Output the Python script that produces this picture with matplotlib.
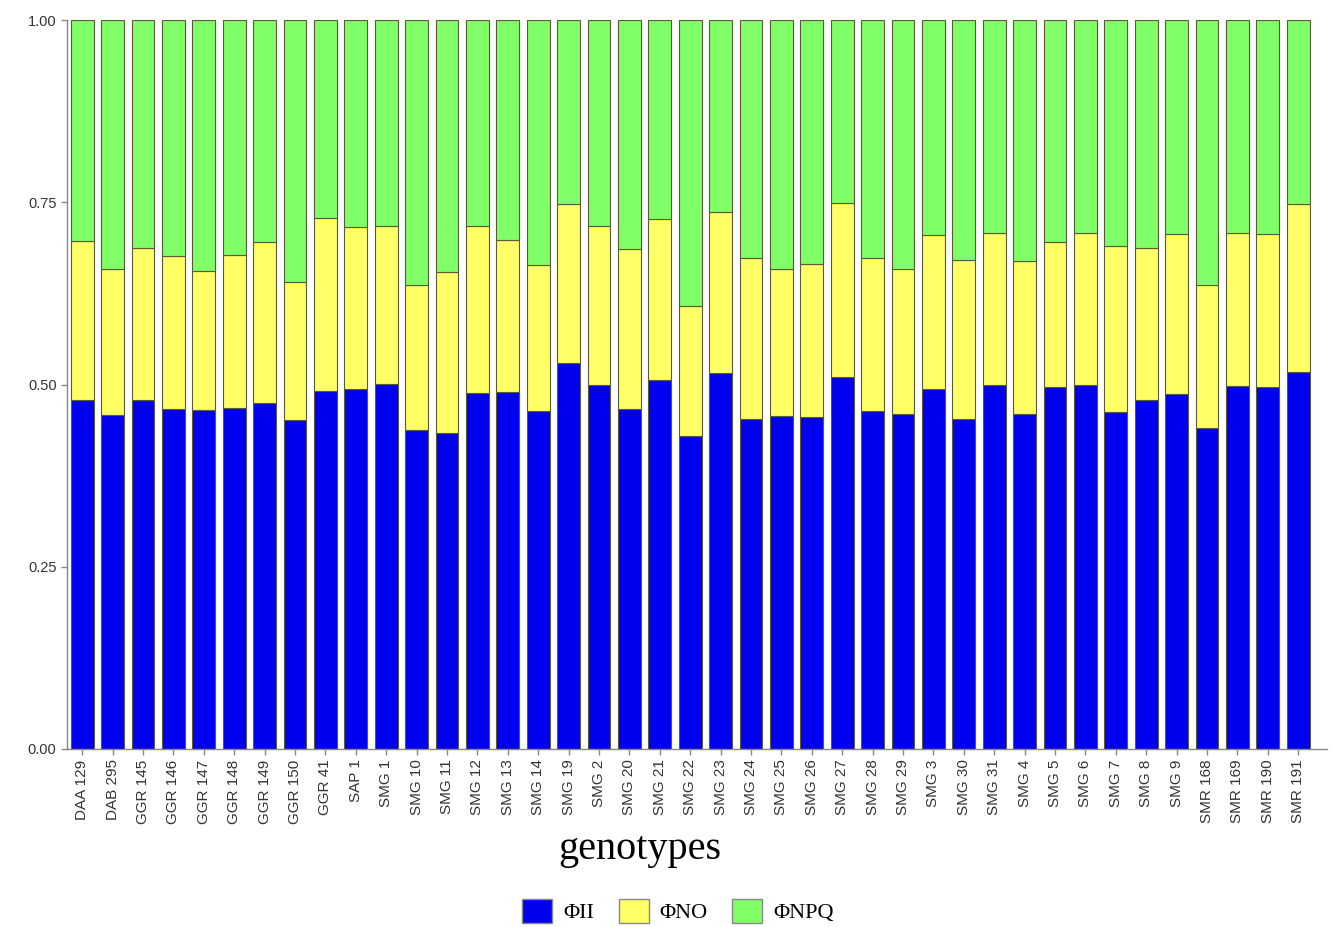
import numpy as np
import matplotlib.pyplot as plt
from matplotlib.patches import Patch

genotypes = ["DAA 129", "DAB 295", "GGR 145", "GGR 146", "GGR 147", "GGR 148",
             "GGR 149", "GGR 150", "GGR 41", "SAP 1", "SMG 1", "SMG 10", "SMG 11",
             "SMG 12", "SMG 13", "SMG 14", "SMG 19", "SMG 2", "SMG 20", "SMG 21",
             "SMG 22", "SMG 23", "SMG 24", "SMG 25", "SMG 26", "SMG 27", "SMG 28",
             "SMG 29", "SMG 3", "SMG 30", "SMG 31", "SMG 4", "SMG 5", "SMG 6",
             "SMG 7", "SMG 8", "SMG 9", "SMR 168", "SMR 169", "SMR 190", "SMR 191"]

# fractions
phi_ii = [0.479, 0.458, 0.479, 0.466, 0.465, 0.468, 0.474, 0.451, 0.491, 0.494,
          0.501, 0.438, 0.433, 0.489, 0.490, 0.464, 0.529, 0.500, 0.467, 0.506,
          0.429, 0.516, 0.453, 0.457, 0.455, 0.510, 0.463, 0.459, 0.494, 0.453,
          0.500, 0.460, 0.496, 0.500, 0.462, 0.479, 0.487, 0.440, 0.498, 0.497,
          0.517]
phi_no = [0.218, 0.200, 0.208, 0.210, 0.191, 0.209, 0.221, 0.189, 0.238, 0.222,
          0.217, 0.199, 0.221, 0.229, 0.208, 0.200, 0.218, 0.218, 0.219, 0.221,
          0.179, 0.220, 0.220, 0.201, 0.210, 0.239, 0.210, 0.199, 0.211, 0.218,
          0.208, 0.209, 0.200, 0.208, 0.228, 0.208, 0.219, 0.197, 0.210, 0.209,
          0.230]
phi_npq = [0.303, 0.342, 0.313, 0.324, 0.344, 0.323, 0.305, 0.360, 0.271, 0.284,
           0.282, 0.363, 0.346, 0.282, 0.302, 0.336, 0.253, 0.282, 0.314, 0.273,
           0.392, 0.264, 0.327, 0.342, 0.335, 0.251, 0.327, 0.342, 0.295, 0.329,
           0.292, 0.331, 0.304, 0.292, 0.310, 0.313, 0.294, 0.363, 0.292, 0.294,
           0.253]

c_ii, c_no, c_npq = "#0000EE", "#FFFF66", "#80FF66"
edge = "#5a5a3a"

fig = plt.figure(figsize=(13.33, 9.27), dpi=100)
ax = fig.add_axes([67 / 1333, 1 - 749 / 927, (1327 - 67) / 1333, (749 - 20) / 927])

x = np.arange(len(genotypes))
w = 0.75
ii = np.array(phi_ii)
no = np.array(phi_no)
npq = np.array(phi_npq)
ax.bar(x, ii, w, color=c_ii, edgecolor=edge, linewidth=0.8)
ax.bar(x, no, w, bottom=ii, color=c_no, edgecolor=edge, linewidth=0.8)
ax.bar(x, npq, w, bottom=ii + no, color=c_npq, edgecolor=edge, linewidth=0.8)

ax.set_xlim(-0.5, len(genotypes) - 0.05)
ax.set_ylim(0, 1)
ax.set_yticks([0, 0.25, 0.5, 0.75, 1.0])
ax.set_yticklabels(["0.00", "0.25", "0.50", "0.75", "1.00"],
                   fontfamily="Liberation Sans", fontsize=10.5)
ax.set_xticks(x)
ax.set_xticklabels(genotypes, rotation=90, fontfamily="Liberation Sans",
                   fontsize=11)
for s in ["top", "right"]:
    ax.spines[s].set_visible(False)
for s in ["left", "bottom"]:
    ax.spines[s].set_color("#888888")
    ax.spines[s].set_linewidth(1)
ax.tick_params(colors="#888888", length=4, width=1, labelcolor="#333333")

fig.text(640 / 1333, 1 - 849 / 927, "genotypes", ha="center", va="center",
         fontfamily="Liberation Serif", fontsize=29)

handles = [Patch(facecolor=c_ii, edgecolor="#888888", label="ΦII"),
           Patch(facecolor=c_no, edgecolor="#888888", label="ΦNO"),
           Patch(facecolor=c_npq, edgecolor="#888888", label="ΦNPQ")]
fig.legend(handles=handles, loc="center", bbox_to_anchor=(678 / 1333, 1 - 911 / 927),
           ncol=3, frameon=False, prop={"family": "Liberation Serif", "size": 16},
           handlelength=1.35, handleheight=1.35, handletextpad=0.5, columnspacing=1.1)

fig.savefig("out.png", dpi=100)
